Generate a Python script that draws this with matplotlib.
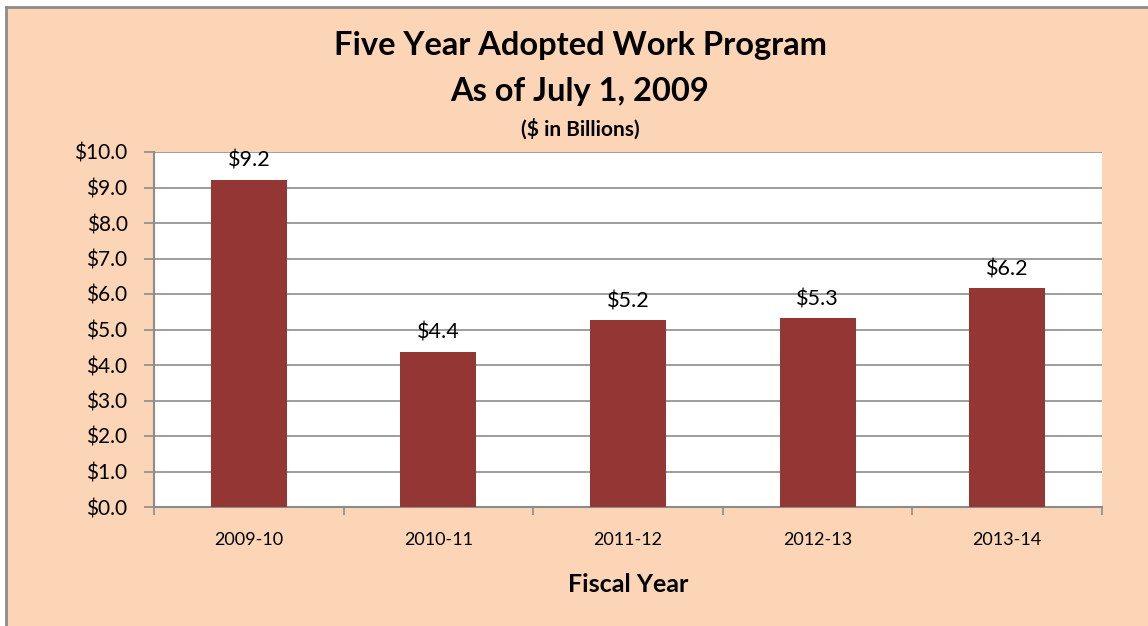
import matplotlib
matplotlib.use("Agg")
import matplotlib.pyplot as plt
from matplotlib.patches import Rectangle
from matplotlib.lines import Line2D

categories = ["2009-10", "2010-11", "2011-12", "2012-13", "2013-14"]
values = [9.22, 4.36, 5.26, 5.31, 6.16]
labels = ["$9.2", "$4.4", "$5.2", "$5.3", "$6.2"]
yticks = [0, 1, 2, 3, 4, 5, 6, 7, 8, 9, 10]

BG = "#FBD5B5"
BAR = "#943634"
GRID = "#8C8C8C"
FONT = ["Lato", "DejaVu Sans"]
plt.rcParams['font.family'] = FONT

W, H = 1148, 626
fig = plt.figure(figsize=(11.48, 6.26), dpi=100, facecolor="white")
x0, y0 = 6 / W, 1 - 7 / H
fig.patches.append(Rectangle((x0, 0), 1 - x0, y0, transform=fig.transFigure,
                             facecolor=BG, edgecolor="none", zorder=-2))
fig.lines.append(Line2D([x0, 1], [y0, y0], transform=fig.transFigure, color="#8C8C8C",
                        linewidth=2, zorder=-1))
fig.lines.append(Line2D([x0, x0], [0, y0], transform=fig.transFigure, color="#8C8C8C",
                        linewidth=2, zorder=-1))

ax = fig.add_axes([154/W, 1 - 507/H, (1102-154)/W, (507-152)/H])
ax.set_facecolor("white")
x = list(range(len(categories)))
ax.bar(x, values, width=0.4, color=BAR, zorder=3)
for xi, v, lab in zip(x, values, labels):
    ax.text(xi, v + 0.26, lab, ha="center", va="bottom", fontsize=15.5, color="black")

ax.set_ylim(0, 10)
ax.set_xlim(-0.5, len(categories) - 0.5)
ax.set_yticks(yticks)
ax.set_yticklabels([f"${t:.1f}" for t in yticks], fontsize=15)
ax.yaxis.grid(True, color=GRID, linewidth=1.2, zorder=0)
ax.tick_params(axis="y", length=7, width=1.2, color=GRID, pad=12)

ax.set_xticks([i - 0.5 for i in range(len(categories) + 1)])
ax.set_xticklabels([])
ax.tick_params(axis="x", which="major", length=6, width=1.2, color=GRID)
ax.set_xticks(x, minor=True)
ax.set_xticklabels(categories, minor=True, fontsize=13)
ax.tick_params(axis="x", which="minor", length=0, pad=18)

for s in ["top", "right"]:
    ax.spines[s].set_visible(False)
for s in ["left", "bottom"]:
    ax.spines[s].set_color(GRID)
    ax.spines[s].set_linewidth(1.5)

ax.set_xlabel("Fiscal Year", fontsize=18, fontweight="bold", labelpad=18)

fig.text(580/W, 1 - 46/H, "Five Year Adopted Work Program", ha="center", va="center",
         fontsize=23.5, fontweight="bold")
fig.text(580/W, 1 - 91/H, "As of July 1, 2009", ha="center", va="center",
         fontsize=23.5, fontweight="bold")
fig.text(580/W, 1 - 129/H, "($ in Billions)", ha="center", va="center",
         fontsize=15, fontweight="bold")

fig.savefig("out.png", dpi=100, facecolor="white")
